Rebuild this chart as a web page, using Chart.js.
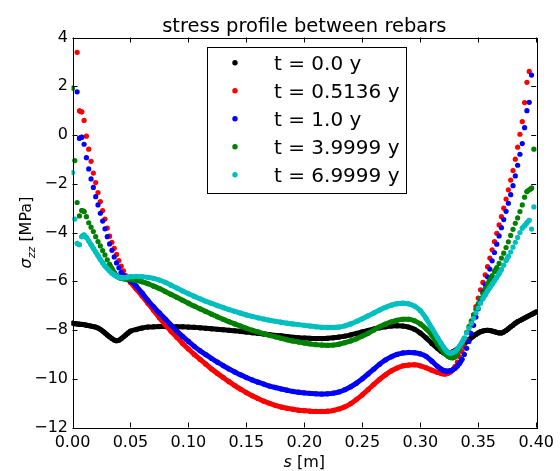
<!DOCTYPE html>
<html>
<head>
<meta charset="utf-8">
<script src="https://cdn.jsdelivr.net/npm/chart.js@4.4.1/dist/chart.umd.min.js"></script>
<style>
  html, body { margin: 0; padding: 0; background: #fff; }
</style>
</head>
<body>
<canvas id="grafico" width="560" height="471"></canvas>
<script>
// ---- DATA ----
// positions along the section [m]
const sPos = [
  0.000, 0.002, 0.004, 0.006, 0.008, 0.010, 0.012, 0.014, 0.016, 0.018,
  0.020, 0.022, 0.024, 0.026, 0.028, 0.030, 0.032, 0.034, 0.036, 0.038,
  0.040, 0.042, 0.044, 0.046, 0.048, 0.050,
  0.055, 0.060, 0.065, 0.070, 0.075, 0.080, 0.085, 0.090, 0.095, 0.100,
  0.105, 0.110, 0.115, 0.120, 0.125, 0.130, 0.135, 0.140, 0.145, 0.150,
  0.155, 0.160, 0.165, 0.170, 0.175, 0.180, 0.185, 0.190, 0.195, 0.200,
  0.205, 0.210, 0.215, 0.220, 0.225, 0.230, 0.235, 0.240, 0.245, 0.250,
  0.255, 0.260, 0.265, 0.270, 0.275, 0.280, 0.285, 0.290, 0.295, 0.300,
  0.305, 0.310, 0.315,
  0.318, 0.320, 0.322, 0.324, 0.326, 0.328, 0.330, 0.332, 0.334, 0.336,
  0.338, 0.340, 0.342, 0.344, 0.346, 0.348, 0.350, 0.352, 0.354, 0.356,
  0.358, 0.360, 0.362, 0.364, 0.366, 0.368, 0.370, 0.372, 0.374, 0.376,
  0.378, 0.380, 0.382, 0.384, 0.386, 0.388, 0.390, 0.392, 0.394, 0.396,
  0.398, 0.400
];

// sigma_zz [MPa] per time
const sigT0 = [
  -7.72, -7.74, -7.75, -7.76, -7.77, -7.78, -7.80, -7.82, -7.84, -7.86,
  -7.88, -7.92, -7.97, -8.04, -8.12, -8.20, -8.28, -8.35, -8.41, -8.44,
  -8.42, -8.36, -8.28, -8.20, -8.12, -8.05,
  -7.98, -7.92, -7.88, -7.87, -7.86, -7.86, -7.86, -7.87, -7.87, -7.88,
  -7.89, -7.91, -7.93, -7.95, -7.97, -7.99, -8.01, -8.03, -8.06, -8.08,
  -8.11, -8.13, -8.16, -8.19, -8.22, -8.24, -8.27, -8.30, -8.32, -8.33,
  -8.34, -8.35, -8.35, -8.34, -8.32, -8.29, -8.25, -8.20, -8.14, -8.08,
  -8.02, -7.96, -7.91, -7.87, -7.84, -7.83, -7.84, -7.88, -7.97, -8.12,
  -8.32, -8.55, -8.76,
  -8.87, -8.93, -8.97, -8.98, -8.96, -8.90, -8.84, -8.77, -8.70, -8.63,
  -8.55, -8.48, -8.40, -8.32, -8.25, -8.18, -8.12, -8.07, -8.04, -8.02,
  -8.01, -8.02, -8.04, -8.07, -8.10, -8.12, -8.12, -8.08, -8.02, -7.95,
  -7.87, -7.80, -7.72, -7.66, -7.61, -7.56, -7.51, -7.46, -7.41, -7.36,
  -7.31, -7.26
];
const sigT05 = [
  null, null, 3.39, 0.99, 0.95, 0.60, -0.05, -0.58, -1.08, -1.56,
  -1.95, -2.36, -2.73, -3.10, -3.45, -3.82, -4.15, -4.40, -4.65, -4.90,
  -5.15, -5.38, -5.57, -5.78, -5.92, -6.05,
  -6.32, -6.60, -6.90, -7.20, -7.50, -7.78, -8.05, -8.30, -8.55, -8.78,
  -9.00, -9.20, -9.40, -9.60, -9.78, -9.95, -10.12, -10.28, -10.43, -10.57,
  -10.70, -10.81, -10.92, -11.01, -11.09, -11.16, -11.21, -11.25, -11.29, -11.31,
  -11.33, -11.34, -11.34, -11.33, -11.30, -11.24, -11.15, -11.02, -10.85, -10.66,
  -10.45, -10.23, -10.02, -9.84, -9.68, -9.56, -9.47, -9.44, -9.43, -9.47,
  -9.55, -9.65, -9.74,
  -9.78, -9.80, -9.80, -9.77, -9.72, -9.64, -9.50, -9.32, -9.10, -8.88,
  -8.68, -8.40, -8.06, -7.72, -7.38, -7.04, -6.69, -6.35, -6.05, -5.74,
  -5.40, -5.05, -4.71, -4.37, -4.03, -3.69, -3.35, -3.00, -2.63, -2.25,
  -1.85, -1.46, -0.99, -0.50, 0.03, 0.55, 1.33, 2.16, 2.61, null,
  null, null
];
const sigT1 = [
  null, null, 1.77, -0.13, -0.09, -0.38, -0.93, -1.39, -1.80, -2.15,
  -2.53, -2.87, -3.21, -3.53, -3.85, -4.17, -4.47, -4.73, -5.00, -5.25,
  -5.45, -5.64, -5.76, -5.85, -5.92, -5.98,
  -6.20, -6.48, -6.78, -7.05, -7.30, -7.55, -7.80, -8.04, -8.26, -8.47,
  -8.67, -8.85, -9.01, -9.17, -9.32, -9.46, -9.60, -9.72, -9.84, -9.95,
  -10.05, -10.14, -10.22, -10.30, -10.36, -10.42, -10.47, -10.52, -10.55, -10.58,
  -10.60, -10.62, -10.63, -10.62, -10.59, -10.54, -10.45, -10.33, -10.18, -10.00,
  -9.80, -9.60, -9.40, -9.23, -9.10, -9.00, -8.94, -8.92, -8.93, -8.98,
  -9.08, -9.28, -9.50,
  -9.60, -9.66, -9.68, -9.69, -9.67, -9.63, -9.57, -9.48, -9.36, -9.20,
  -9.00, -8.75, -8.47, -8.15, -7.81, -7.47, -7.13, -6.79, -6.45, -6.13,
  -5.82, -5.50, -5.16, -4.82, -4.48, -4.14, -3.80, -3.47, -3.13, -2.80,
  -2.45, -2.08, -1.68, -1.24, -0.79, -0.35, 0.30, 1.00, 1.34, 2.46,
  null, null
];
const sigT4 = [
  1.92, -1.05, -2.77, -3.32, -3.10, -3.14, -3.35, -3.60, -3.78, -3.96,
  -4.17, -4.37, -4.55, -4.74, -4.92, -5.12, -5.31, -5.48, -5.64, -5.77,
  -5.85, -5.88, -5.90, -5.91, -5.92, -5.93,
  -5.97, -6.02, -6.10, -6.20, -6.30, -6.42, -6.54, -6.66, -6.78, -6.90,
  -7.02, -7.13, -7.24, -7.35, -7.46, -7.56, -7.66, -7.75, -7.84, -7.93,
  -8.01, -8.08, -8.15, -8.22, -8.28, -8.34, -8.40, -8.45, -8.49, -8.53,
  -8.57, -8.60, -8.62, -8.63, -8.62, -8.58, -8.52, -8.45, -8.36, -8.25,
  -8.13, -8.00, -7.87, -7.76, -7.67, -7.60, -7.56, -7.56, -7.62, -7.75,
  -7.95, -8.22, -8.58,
  -8.78, -8.90, -9.00, -9.08, -9.13, -9.14, -9.10, -8.98, -8.80, -8.58,
  -8.34, -8.10, -7.86, -7.62, -7.38, -7.15, -6.92, -6.70, -6.50, -6.30,
  -6.12, -5.95, -5.78, -5.60, -5.45, -5.27, -5.05, -4.85, -4.62, -4.38,
  -4.12, -3.87, -3.62, -3.40, -3.14, -2.87, -2.55, -2.32, -2.25, -2.18,
  -0.58, null
];
const sigT7 = [
  -1.54, -3.45, -4.45, -4.50, -4.17, -4.10, -4.20, -4.35, -4.50, -4.65,
  -4.80, -4.95, -5.10, -5.24, -5.37, -5.48, -5.58, -5.67, -5.74, -5.80,
  -5.84, -5.86, -5.86, -5.85, -5.83, -5.81,
  -5.80, -5.81, -5.84, -5.88, -5.95, -6.04, -6.16, -6.28, -6.40, -6.51,
  -6.62, -6.72, -6.82, -6.91, -7.00, -7.08, -7.16, -7.24, -7.31, -7.38,
  -7.44, -7.50, -7.55, -7.60, -7.64, -7.68, -7.72, -7.75, -7.78, -7.81,
  -7.84, -7.87, -7.89, -7.90, -7.90, -7.88, -7.83, -7.75, -7.65, -7.54,
  -7.42, -7.30, -7.18, -7.07, -6.98, -6.92, -6.90, -6.93, -7.02, -7.20,
  -7.52, -7.92, -8.32,
  -8.55, -8.70, -8.82, -8.92, -8.95, -8.93, -8.88, -8.78, -8.65, -8.50,
  -8.33, -8.12, -7.93, -7.73, -7.52, -7.30, -7.10, -6.90, -6.72, -6.56,
  -6.40, -6.26, -6.12, -5.98, -5.84, -5.69, -5.52, -5.34, -5.15, -4.98,
  -4.80, -4.60, -4.40, -4.20, -4.00, -3.82, -3.72, -3.60, -3.50, -3.86,
  -2.95, null
];

const seriesLabels = ['t = 0.0 y', 't = 0.5136 y', 't = 1.0 y', 't = 3.9999 y', 't = 6.9999 y'];
const seriesValues = [sigT0, sigT05, sigT1, sigT4, sigT7];
const seriesColors = ['#000000', '#ff0000', '#0000ff', '#008000', '#00bfbf'];

const xTicks = [0, 0.05, 0.1, 0.15, 0.2, 0.25, 0.3, 0.35, 0.4];
const yTicks = [-12, -10, -8, -6, -4, -2, 0, 2, 4];

const FONT = "'DejaVu Sans', 'Liberation Sans', sans-serif";

// steep segments show only the separate dots, flat ones look like a dense band
function segColor(color) {
  return ctx => {
    const dx = Math.abs(ctx.p1.x - ctx.p0.x);
    const dy = Math.abs(ctx.p1.y - ctx.p0.y);
    return dy > 1.8 * dx ? 'rgba(0,0,0,0)' : color;
  };
}

const datasets = seriesValues.map((vals, i) => ({
  label: seriesLabels[i],
  data: sPos.map((x, k) => ({ x: x, y: vals[k] })),
  borderColor: seriesColors[i],
  backgroundColor: seriesColors[i],
  pointBackgroundColor: seriesColors[i],
  pointBorderWidth: 0,
  pointRadius: 2.6,
  borderWidth: 5,
  borderCapStyle: 'round',
  borderJoinStyle: 'round',
  cubicInterpolationMode: 'monotone',
  segment: { borderColor: segColor(seriesColors[i]) },
  order: seriesValues.length - i,
  clip: 1
}));

// ---- DECORATION (frame, inner ticks, legend, titles) ----
const decor = {
  id: 'decor',
  afterDatasetsDraw(chart) {
    const ctx = chart.ctx;
    const a = chart.chartArea;
    const xs = chart.scales.x, ys = chart.scales.y;
    ctx.save();
    ctx.strokeStyle = '#000';
    ctx.lineWidth = 1;
    ctx.beginPath();
    xTicks.forEach(v => {
      const px = Math.round(xs.getPixelForValue(v)) + 0.5;
      ctx.moveTo(px, a.bottom); ctx.lineTo(px, a.bottom - 5);
      ctx.moveTo(px, a.top); ctx.lineTo(px, a.top + 5);
    });
    yTicks.forEach(v => {
      const py = Math.round(ys.getPixelForValue(v)) + 0.5;
      ctx.moveTo(a.left, py); ctx.lineTo(a.left + 5, py);
      ctx.moveTo(a.right, py); ctx.lineTo(a.right - 5, py);
    });
    ctx.stroke();
    ctx.strokeRect(Math.round(a.left) + 0.5, Math.round(a.top) + 0.5,
      Math.round(a.right - a.left), Math.round(a.bottom - a.top));

    // legend
    const box = { left: 207.5, top: 47.5, right: 406.5, bottom: 193.5 };
    ctx.fillStyle = '#fff';
    ctx.fillRect(box.left, box.top, box.right - box.left, box.bottom - box.top);
    ctx.strokeRect(box.left, box.top, box.right - box.left, box.bottom - box.top);
    ctx.font = '20px ' + FONT;
    ctx.textAlign = 'left';
    ctx.textBaseline = 'alphabetic';
    chart.data.datasets.forEach((ds, i) => {
      const y = 62.7 + i * 28;
      ctx.beginPath();
      ctx.arc(235, y, 2.7, 0, Math.PI * 2);
      ctx.fillStyle = ds.borderColor;
      ctx.fill();
      ctx.fillStyle = '#000';
      ctx.fillText(ds.label, 274, y + 7.5);
    });

    // title
    const cx = (a.left + a.right) / 2;
    ctx.textAlign = 'center';
    ctx.font = '19.5px ' + FONT;
    ctx.fillText('stress profile between rebars', cx, 31.5);

    // x label: s [m]
    ctx.textAlign = 'left';
    ctx.font = 'italic 16px ' + FONT;
    const ws = ctx.measureText('s').width;
    ctx.font = '16px ' + FONT;
    const wm = ctx.measureText(' [m]').width;
    let x0 = cx - (ws + wm) / 2;
    ctx.font = 'italic 16px ' + FONT;
    ctx.fillText('s', x0, 467);
    ctx.font = '16px ' + FONT;
    ctx.fillText(' [m]', x0 + ws, 467);

    // y label: sigma_zz [MPa]
    ctx.translate(31, (a.top + a.bottom) / 2);
    ctx.rotate(-Math.PI / 2);
    ctx.font = 'italic 16px ' + FONT;
    const w1 = ctx.measureText('σ').width;
    ctx.font = 'italic 11px ' + FONT;
    const w2 = ctx.measureText('zz').width;
    ctx.font = '16px ' + FONT;
    const w3 = ctx.measureText(' [MPa]').width;
    let p = -(w1 + w2 + w3) / 2;
    ctx.font = 'italic 16px ' + FONT;
    ctx.fillText('σ', p, 0);
    ctx.font = 'italic 11px ' + FONT;
    ctx.fillText('zz', p + w1, 4);
    ctx.font = '16px ' + FONT;
    ctx.fillText(' [MPa]', p + w1 + w2, 0);
    ctx.restore();
  }
};

const ctxGraf = document.getElementById('grafico').getContext('2d');
const grafico = new Chart(ctxGraf, {
  type: 'line',
  data: { datasets: datasets },
  options: {
    responsive: false,
    animation: false,
    layout: { padding: { top: 37.5, right: 19, left: 0, bottom: 0 } },
    plugins: {
      legend: { display: false },
      title: { display: false },
      tooltip: { enabled: false }
    },
    scales: {
      x: {
        type: 'linear',
        min: 0,
        max: 0.4,
        afterFit: s => { s.height = 43.5; },
        afterBuildTicks: s => { s.ticks = xTicks.map(v => ({ value: v })); },
        grid: { display: false, drawTicks: false },
        border: { display: false },
        ticks: {
          padding: 6,
          color: '#000',
          maxRotation: 0,
          autoSkip: false,
          font: { family: FONT, size: 16 },
          callback: v => v.toFixed(2)
        }
      },
      y: {
        type: 'linear',
        min: -12,
        max: 4,
        afterFit: s => { s.width = 72.5; },
        afterBuildTicks: s => { s.ticks = yTicks.map(v => ({ value: v })); },
        grid: { display: false, drawTicks: false },
        border: { display: false },
        ticks: {
          padding: 4.5,
          color: '#000',
          autoSkip: false,
          font: { family: FONT, size: 16 },
          callback: v => (v < 0 ? '\u2212' + Math.abs(v) : String(v))
        }
      }
    }
  },
  plugins: [decor]
});
</script>
</body>
</html>
